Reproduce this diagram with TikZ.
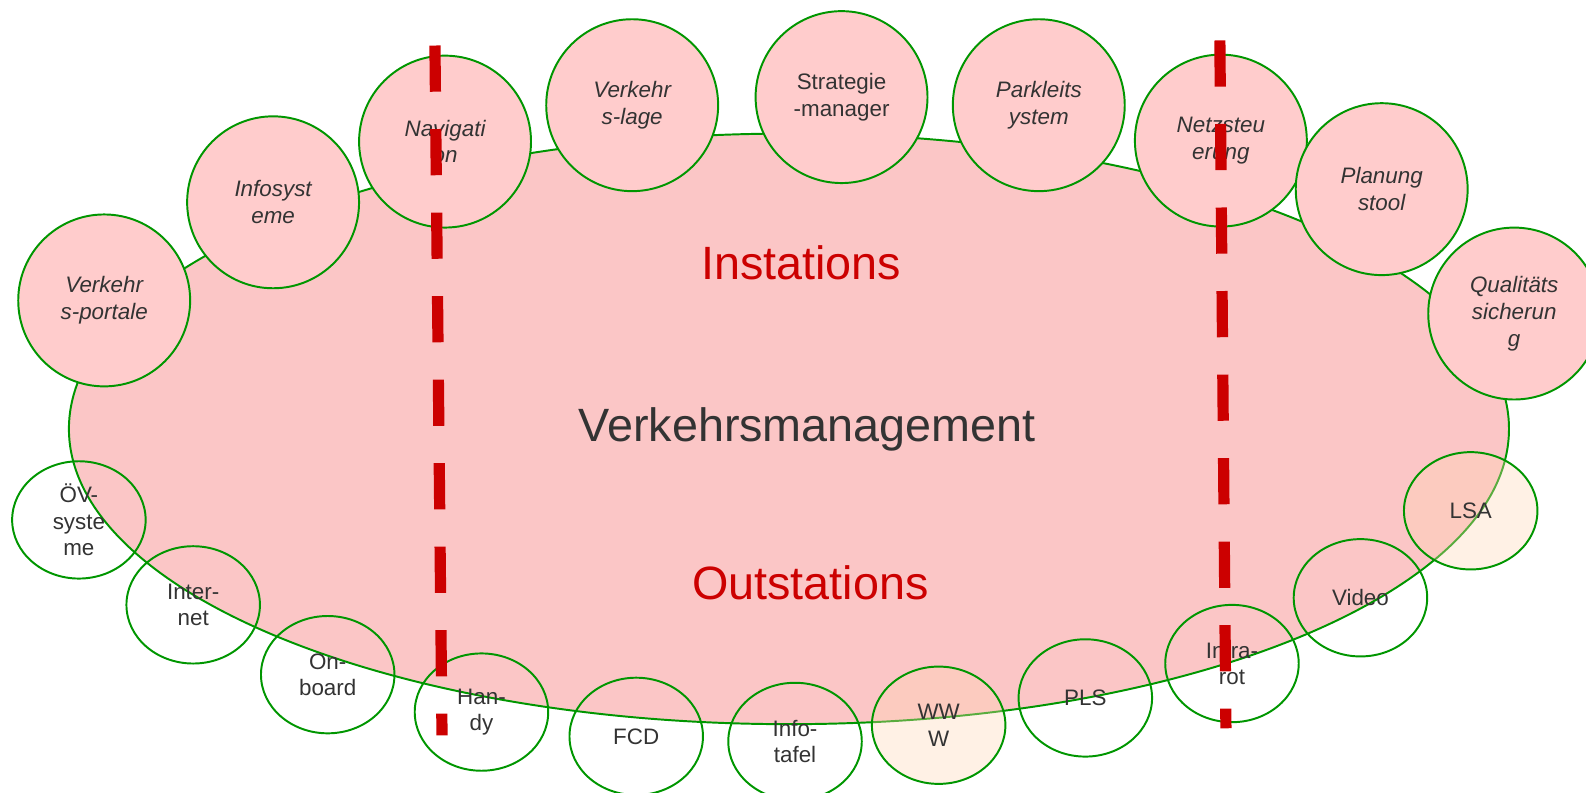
\documentclass[tikz,border=0pt]{standalone}
\usepackage{fontspec}
\setmainfont{Liberation Sans}
\usetikzlibrary{shapes.geometric}
\definecolor{VmGreen}{RGB}{0, 150, 0}
\definecolor{VmPink}{RGB}{255, 204, 204}
\definecolor{VmHatch}{RGB}{251, 198, 198}
\definecolor{VmRed}{RGB}{204, 0, 0}
\definecolor{VmText}{RGB}{51, 51, 51}
\definecolor{VmPeach}{RGB}{255, 214, 180}

\begin{document}
\begin{tikzpicture}[
        x=0.02cm, y=-0.02cm,
        every node/.style={text=VmText},
        incircle/.style={circle, draw=VmGreen, fill=VmPink, line width=1.1pt, minimum size=3.4cm, inner sep=0pt, align=center, font=\fontsize{12.6}{15}\selectfont\itshape},
        outcircle/.style={ellipse, draw=VmGreen, line width=1.1pt, minimum width=2.64cm, minimum height=2.32cm, inner sep=0pt, align=center, font=\fontsize{12.6}{15}\selectfont},
        tinted/.style={fill=VmPeach, fill opacity=0.35, text opacity=1},
        bigtitle/.style={font=\fontsize{26.3}{30}\selectfont},
        cutline/.style={draw=VmRed, line width=6.3pt, dash pattern=on 26pt off 21pt}
    ]
        \useasboundingbox (0,0) rectangle (1568,784);

        \node[ellipse, draw=VmGreen, fill=VmHatch, line width=1.1pt, minimum width=28.48cm, minimum height=11.68cm, inner sep=0pt] (vm) at (780,424) {};

        \node[incircle] (portale) at (103,297) {Verkehr\\s-portale};
        \node[incircle] (infosys) at (270,200) {Infosyst\\eme};
        \node[incircle] (navi) at (440,140) {Navigati\\on};
        \node[incircle] (lage) at (625,104) {Verkehr\\s-lage};
        \node[incircle, font=\fontsize{12.6}{15}\selectfont] (strategie) at (832,96) {Strategie\\-manager};
        \node[incircle] (parkleit) at (1027,104) {Parkleits\\ystem};
        \node[incircle] (netz) at (1207,139) {Netzsteu\\erung};
        \node[incircle] (planung) at (1366,187) {Planung\\stool};
        \node[incircle] (qs) at (1497,310) {Qualitäts\\sicherun\\g};

        \node[bigtitle, text=VmRed] (instations) at (792,260) {Instations};
        \node[bigtitle] (title) at (798,425) {Verkehrsmanagement};
        \node[bigtitle, text=VmRed] (outstations) at (801,576) {Outstations};

        \node[outcircle] (oev) at (78,514) {ÖV-\\syste\\me};
        \node[outcircle] (internet) at (191,598) {Inter-\\net};
        \node[outcircle] (onboard) at (324,667) {On-\\board};
        \node[outcircle] (handy) at (476,704) {Han-\\dy};
        \node[outcircle] (fcd) at (629,728) {FCD};
        \node[outcircle] (infotafel) at (786,733) {Info-\\tafel};
        \node[outcircle, tinted] (www) at (928,717) {WW\\W};
        \node[outcircle] (pls) at (1073,690) {PLS};
        \node[outcircle] (infrarot) at (1218,656) {Infra-\\rot};
        \node[outcircle] (video) at (1345,591) {Video};
        \node[outcircle, tinted] (lsa) at (1454,505) {LSA};

        \coordinate (leftTop) at (430,45);
        \coordinate (leftBot) at (437,727);
        \coordinate (rightTop) at (1206,40);
        \coordinate (rightBot) at (1212,720);
        \draw[cutline] (leftTop) -- (leftBot);
        \draw[cutline] (rightTop) -- (rightBot);

    \end{tikzpicture}
\end{document}
